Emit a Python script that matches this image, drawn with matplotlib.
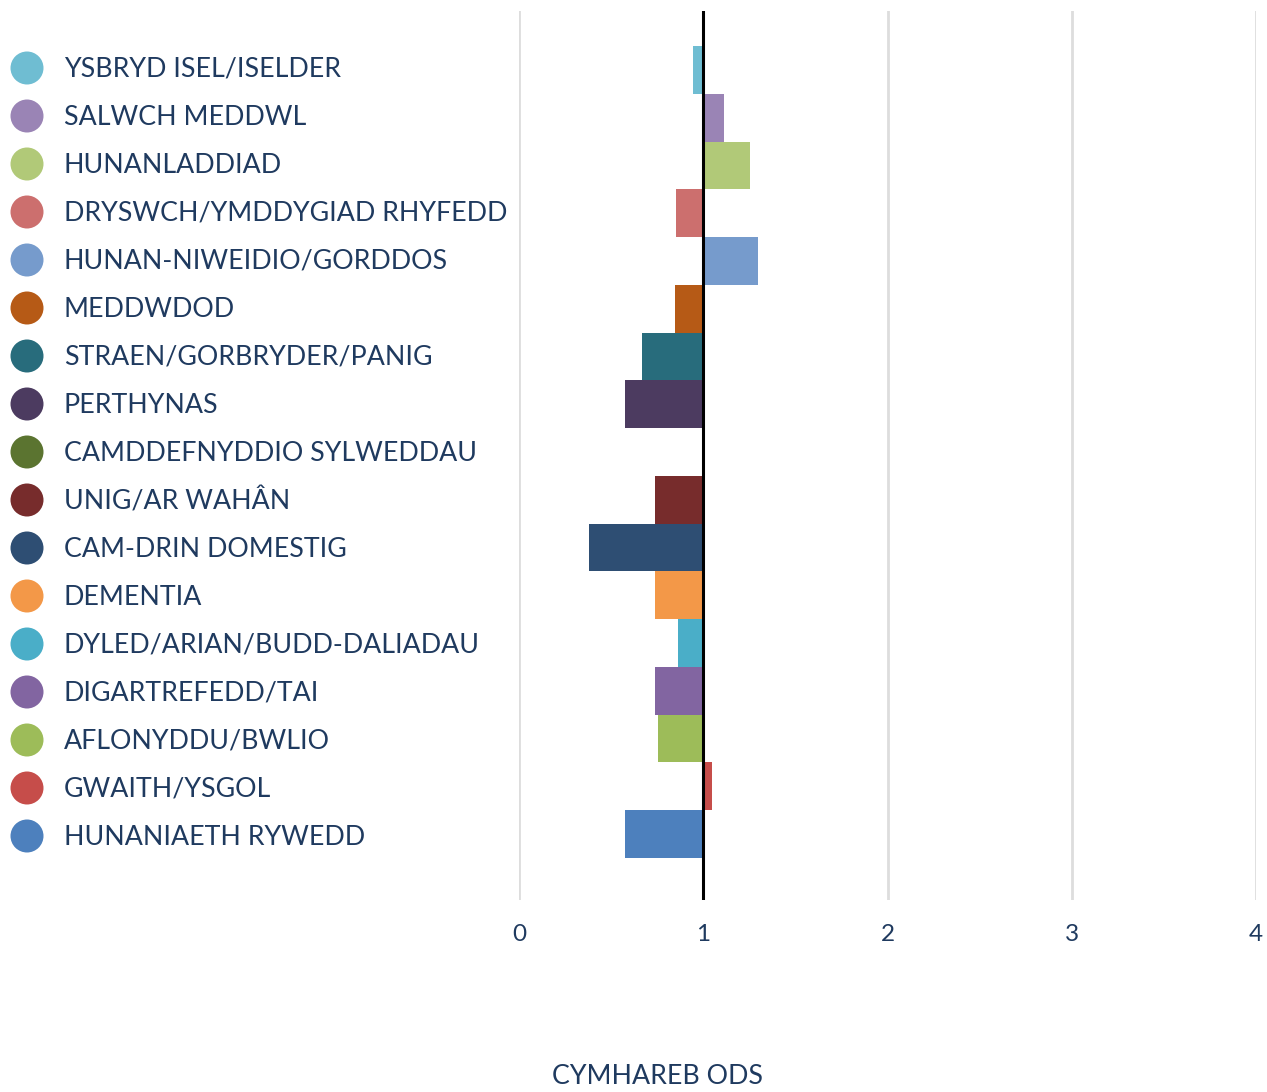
import matplotlib
matplotlib.use("Agg")
import matplotlib.pyplot as plt
from matplotlib.patches import Ellipse

categories = [
    "YSBRYD ISEL/ISELDER", "SALWCH MEDDWL", "HUNANLADDIAD",
    "DRYSWCH/YMDDYGIAD RHYFEDD", "HUNAN-NIWEIDIO/GORDDOS", "MEDDWDOD",
    "STRAEN/GORBRYDER/PANIG", "PERTHYNAS", "CAMDDEFNYDDIO SYLWEDDAU",
    "UNIG/AR WAHÂN", "CAM-DRIN DOMESTIG", "DEMENTIA",
    "DYLED/ARIAN/BUDD-DALIADAU", "DIGARTREFEDD/TAI", "AFLONYDDU/BWLIO",
    "GWAITH/YSGOL", "HUNANIAETH RYWEDD",
]
odds_ratio = [0.944, 1.113, 1.254, 0.852, 1.297, 0.847, 0.668, 0.575, 1.0,
              0.738, 0.380, 0.738, 0.863, 0.738, 0.754, 1.047, 0.575]
colors = ["#6fbdd2", "#9a84b5", "#b1c978", "#cc6f6e", "#769bcc", "#b65a16",
          "#286c7c", "#4c3b60", "#5b7430", "#772c2c", "#2e4e73", "#f39848",
          "#4aaec8", "#8265a1", "#9dbc59", "#c64d4a", "#4d80bd"]
x_ticks = [0, 1, 2, 3, 4]
x_label = "CYMHAREB ODS"

W, H = 1267, 1092
fig = plt.figure(figsize=(W / 100, H / 100), dpi=100)
text_color = "#1f3a5f"
font = "Lato"

ax = fig.add_axes([519 / W, 1 - 900 / H, (1256 - 519) / W, (900 - 11) / H])
ypos = list(range(len(categories)))
lefts = [min(1.0, v) for v in odds_ratio]
widths = [abs(v - 1.0) for v in odds_ratio]
ax.barh(ypos, widths, left=lefts, height=1.0, color=colors, linewidth=0, zorder=2)
ax.set_xlim(0, 4)
y0 = (11 - 70) / 47.75
y1 = (900 - 70) / 47.75
ax.set_ylim(y1, y0)
for t in x_ticks:
    ax.axvline(t, color="#dddddd", lw=2, zorder=1)
ax.axvline(1, color="black", lw=2.2, zorder=3)
ax.set_yticks([])
ax.set_xticks(x_ticks)
ax.set_xticklabels([str(t) for t in x_ticks], fontsize=17.5, color=text_color, family=font)
ax.tick_params(axis="x", length=0, pad=17)
for s in ax.spines.values():
    s.set_visible(False)

# legend
for i, (c, col) in enumerate(zip(categories, colors)):
    yc = 68 + 48 * i
    fig.patches.append(Ellipse((27 / W, 1 - yc / H), 33 / W, 33 / H,
                       transform=fig.transFigure, facecolor=col, edgecolor="none"))
    fig.text(64 / W, 1 - (yc + 1.5) / H, c, fontsize=19.3, color=text_color, family=font,
             va="center", ha="left")

fig.text(657.5 / W, 1 - 1077 / H, x_label, fontsize=19.3, color=text_color, family=font,
         va="center", ha="center")

fig.savefig("out.png", dpi=100)
